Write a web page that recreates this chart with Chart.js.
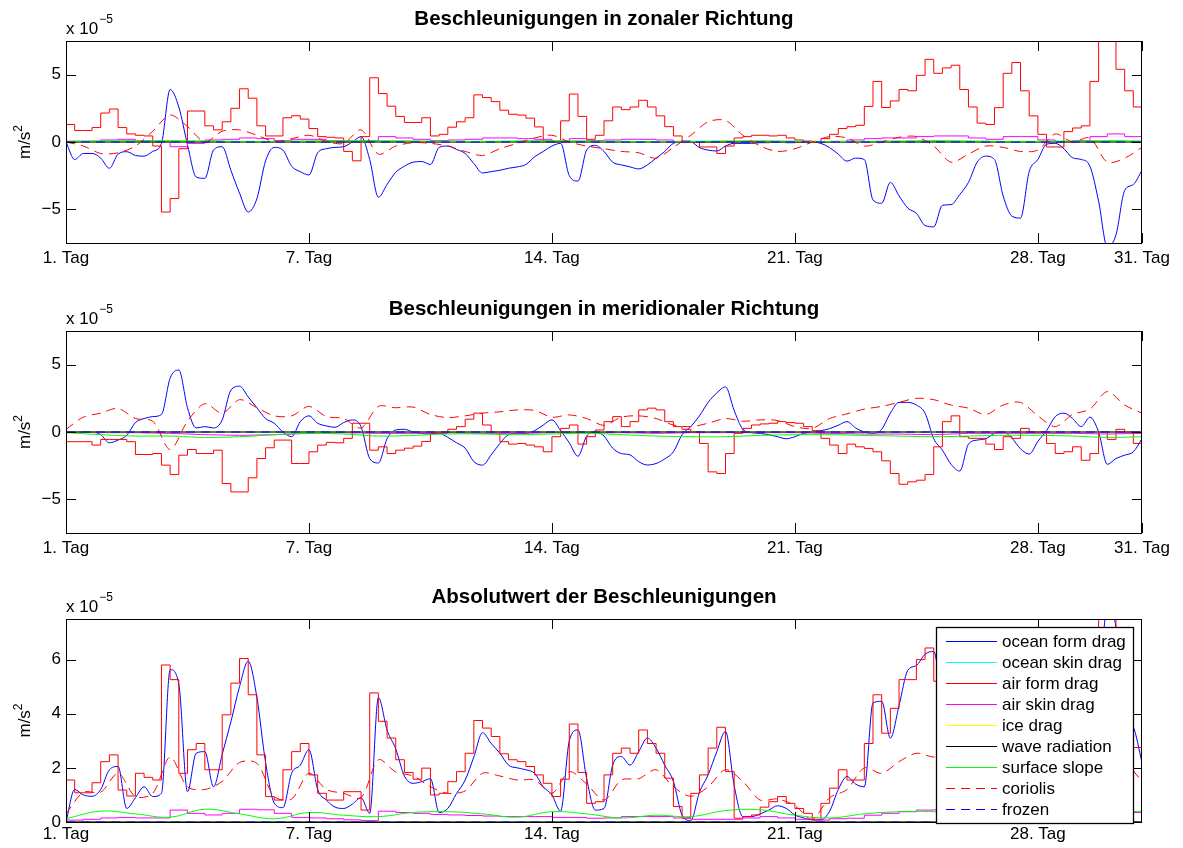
<!DOCTYPE html>
<html>
<head>
<meta charset="utf-8">
<title>Beschleunigungen</title>
<script src="https://cdn.jsdelivr.net/npm/chart.js@4.4.1/dist/chart.umd.min.js"></script>
<style>
	body { margin: 0; background: #fff; }
	canvas { position: absolute; left: 0; }
</style>
</head>
<body>
<canvas id="zonalChart" width="1183" height="288" style="top:0"></canvas>
<canvas id="meridChart" width="1183" height="288" style="top:288px"></canvas>
<canvas id="absChart" width="1183" height="272" style="top:576px"></canvas>
<script>
// grid spacing of the value lists, in days
const QUARTER = 0.25;
const HALF = 0.5;
const DAY = 1;

const dayTicks = [0, 7, 14, 21, 28, 31];
const dayLabels = ["1. Tag", "7. Tag", "14. Tag", "21. Tag", "28. Tag", "31. Tag"];
const signedTicks = [-5, 0, 5];
const absTicks = [0, 2, 4, 6];

const seriesNames = ["ocean form drag", "ocean skin drag", "air form drag", "air skin drag",
	"ice drag", "wave radiation", "surface slope", "coriolis", "frozen"];
const seriesColors = ["#0000ff", "#00ffff", "#ff0000", "#ff00ff",
	"#ffff00", "#000000", "#00ff00", "#ff0000", "#0000ff"];
const seriesDashes = [[], [], [], [], [], [], [], [9, 6], [9, 6]];

// series that stay at zero over the whole month
const zeroDays = [0, 31];
const zeroValues = [0, 0];

/* ===== zonal (x 1e-5 m/s^2) ===== */
const zonalAirForm = [
	1.3, 0.85, 0.85, 1.07,  2.15, 2.45, 1.07, 0.6,  0.5, 0.45, -0.3, -5.2,  -4.2, -0.5, 2.3, 2.3,
	1.2, 0.9, 1.5, 2.5,  3.95, 3.25, 1.2, 0.45,  0.45, 1.8, 1.95, 1.7,  1.0, 0.4, 0.35, 0.3,
	-0.7, -1.4, 0.4, 4.77,  3.6, 2.66, 1.9, 1.45,  1.45, 1.8, 0.45, 0.57,  1.1, 1.5, 1.8, 3.5,
	3.3, 3.0, 2.36, 2.06,  2.0, 1.77, 1.12, 0.07,  0.0, 1.57, 3.56, 1.9,  0.2, 0.5, 1.57, 2.6,
	2.4, 2.6, 3.1, 2.6,  1.94, 1.14, 0.45, 0.07,  0.0, -0.37, -0.37, -0.85,  -0.3, 0.3, 0.4, 0.5,
	0.5, 0.45, 0.5, 0.3,  0.15, 0.07, 0.0, 0.25,  0.57, 1.0, 1.14, 1.24,  2.64, 4.5, 2.56, 3.05,
	3.9, 3.8, 4.95, 6.14,  5.1, 5.5, 5.7, 3.9,  2.6, 1.4, 1.3, 2.55,  5.1, 5.9, 3.8, 1.94,
	0.57, -0.37, -0.37, 0.77,  1.04, 1.2, 4.5, 8.0,  8.0, 5.4, 3.8, 2.6,  2.6
];
const zonalOceanForm = [
	0, -1.3, -0.85, -0.85,  -1.2, -1.95, -0.9, -0.72,  -1.0, -1.05, -0.7, -0.1,  3.9, 2.6, -0.2, -2.6,
	-2.7, -0.6, -0.35, -2.1,  -3.8, -5.2, -4.2, -1.4,  -0.4, -0.6, -1.8, -2.2,  -2.45, -0.8, -0.5, -0.4,
	-0.35, 0.0, 0.4, -1.3,  -4.1, -3.15, -2.25, -1.8,  -1.5, -1.45, -1.67, -0.4,  -0.3, -0.55, -0.85, -1.6,
	-2.3, -2.2, -2.1, -1.95,  -1.85, -1.67, -1.1, -0.7,  -0.3, -0.1, -2.5, -2.9,  -0.6, -0.25, -0.7, -1.5,
	-1.7, -1.85, -2.0, -1.7,  -1.2, -0.7, -0.1, 0.0,  0.0, -0.42, -0.6, -0.67,  -0.3, -0.1, -0.1, -0.1,
	-0.05, -0.05, 0.0, -0.05,  -0.05, 0.0, 0.0, -0.1,  -0.42, -0.9, -1.42, -1.2,  -1.3, -4.3, -4.55, -3.0,
	-4.0, -4.9, -5.3, -6.2,  -6.3, -4.7, -4.65, -3.9,  -3.0, -1.5, -1.05, -1.3,  -4.0, -5.5, -5.65, -2.2,
	-1.3, -0.17, -0.1, -0.5,  -1.17, -1.3, -1.8, -4.4,  -7.8, -6.9, -3.6, -3.16,  -2.1
];
const zonalCoriolis = [
	0, -0.3, -0.85, -0.8, -0.3, 0.8, 2.0, 1.15, 0.0, 0.8, 0.9, 0.5, 0.05, 0.25, 0.5, 0.05,
	-0.1, 0.9, -0.9, -0.3, -0.05, -0.1, -0.3, -0.7, -1.0, -0.5, -0.1, 0.3, 0.5, 0.0, -0.3, -0.5,
	-0.7, -0.8, -1.2, -0.4, 0.5, 1.5, 1.6, 0.5, -0.3, -0.7, -0.5, 0.0, 0.4, 0.3, -0.3, 0.0,
	0.35, 0.4, -0.3, -1.5, -0.9, -0.3, -0.4, -0.7, -0.6, 0.6, 0.0, 0.3, -1.5, -1.2, -0.4
];
const zonalAirSkin = [
	0.05, 0.05, 0.15, 0.2, 0.1, 0.0, -0.35, -0.1, 0.15, 0.2, 0.3, 0.25, 0.1, 0.2, 0.2, 0.1,
	0.0, 0.1, 0.4, 0.3, 0.2, 0.1, 0.15, 0.2, 0.3, 0.3, 0.25, 0.2, 0.05, 0.25, 0.1, 0.15,
	0.2, 0.2, 0.15, 0.05, 0.0, 0.0, 0.0, 0.05, 0.05, 0.05, 0.0, 0.0, 0.05, 0.15, 0.25, 0.3,
	0.3, 0.4, 0.45, 0.45, 0.3, 0.2, 0.4, 0.4, 0.15, 0.0, 0.1, 0.4, 0.6, 0.4, 0.3
];
const zonalSlope = [
	0.05, 0.08, 0.1, 0.1, 0.08, 0.05, 0.05, 0.08, 0.1, 0.1, 0.08, 0.05, 0.05, 0.08, 0.1, 0.08,
	0.05, 0.03, 0.05, 0.08, 0.08, 0.05, 0.03, 0.05, 0.08, 0.1, 0.08, 0.05, 0.05, 0.08, 0.1, 0.08
];

/* ===== meridional ===== */
const meridAirForm = [
	-0.72, -0.72, -0.72, -0.97,  -0.55, -0.55, -0.55, -0.72,  -1.67, -1.67, -1.6, -2.46,  -3.16, -1.72, -1.3, -1.6,
	-1.6, -1.35, -3.83, -4.45,  -4.45, -3.4, -1.97, -1.17,  -0.6, -0.6, -2.34, -2.34,  -1.47, -0.97, -0.77, -0.8,
	-0.47, 0.65, 0.65, -1.35,  -1.1, -1.6, -1.35, -1.2,  -1.05, -0.7, -0.1, -0.1,  0.2, 0.4, 0.95, 1.4,
	0.52, 0.0, -0.72, -0.9,  -0.85, -0.97, -1.1, -1.47,  -0.35, 0.27, 0.52, -0.9,  -0.35, 0.15, 0.77, 1.14,
	0.4, 0.77, 1.64, 1.77,  1.64, 0.77, 0.4, 0.2,  0.0, -0.85, -2.96, -3.08,  -1.6, -0.1, 0.27, 0.52,
	0.6, 0.65, 0.77, 0.7,  0.65, 0.4, 0.1, -0.47,  -0.97, -1.6, -0.9, -1.1,  -1.22, -1.47, -2.14, -3.08,
	-3.88, -3.7, -3.58, -3.16,  -1.1, 0.77, 1.2, -0.35,  -0.47, -0.47, -0.9, -1.3,  -0.35, -0.47, 0.27, 0.0,
	0.0, -0.85, -1.6, -1.47,  -1.1, -2.1, -1.6, 0.0,  -0.55, 0.2, 0.0, -0.85,  -0.85
];
const meridOceanForm = [
	0, 0, 0, 0,  -0.2, -0.8, -0.6, -0.25,  0.7, 1.0, 1.14, 1.3,  4.0, 4.6, 1.8, 0.3,
	0.4, 0.3, 0.9, 3.1,  3.4, 2.6, 1.8, 1.0,  0.65, 0.0, -0.35, 0.77,  1.2, 0.65, 0.45, 0.35,
	0.7, 0.9, 0.4, -1.97,  -2.3, -0.5, 0.15, 0.2,  0.0, -0.1, -0.15, -0.1,  -0.4, -0.8, -1.2, -2.2,
	-2.46, -1.7, -0.85, -0.2,  -0.1, -0.1, 0.1, 0.52,  0.9, 0.1, -0.8, -1.8,  -0.3, 0.0, -0.3, -1.2,
	-1.6, -1.7, -2.2, -2.45,  -2.34, -2.0, -1.47, -0.2,  0.4, 1.2, 2.2, 2.9,  3.35, 1.6, 0.2, -0.05,
	-0.1, -0.2, -0.35, -0.5,  -0.35, -0.1, 0.0, 0.1,  0.25, 0.5, 0.77, 0.3,  0.0, -0.1, 0.2, 1.4,
	2.2, 2.2, 2.0, 1.4,  -0.5, -1.35, -2.4, -2.9,  -0.9, -0.6, -0.5, -0.1,  0.0, -0.45, -1.25, -1.64,
	-0.7, 0.1, 1.14, 1.4,  1.0, 0.4, 1.1, 0.0,  -2.4, -1.97, -1.72, -1.47,  -0.5
];
const meridCoriolis = [
	0.2, 1.1, 1.4, 1.75, 1.0, 0.8, -1.3, 0.8, 2.1, 1.4, 2.4, 1.8, 1.2, 1.2, 1.9, 1.15,
	1.0, 0.3, 1.9, 1.8, 1.85, 1.3, 1.07, 1.2, 1.4, 1.5, 1.64, 1.6, 1.1, 1.27, 1.0, 0.5,
	1.1, 1.2, 1.0, 0.52, 0.4, 0.65, 1.0, 0.8, 0.9, 0.85, 0.4, 0.27, 1.0, 1.35, 1.7, 1.9,
	2.2, 2.5, 2.4, 2.0, 1.77, 1.3, 2.0, 2.2, 1.2, 0.4, 1.3, 1.7, 3.0, 2.0, 1.4
];
const meridAirSkin = [
	0, -0.05, -0.05, -0.1, -0.2, -0.25, -0.2, -0.1, -0.05, -0.1, -0.1, -0.05, -0.1, -0.1, -0.05, -0.05,
	-0.05, -0.1, -0.05, -0.05, -0.05, -0.05, -0.1, -0.15, -0.15, -0.2, -0.1, -0.1, -0.1, -0.1, -0.15, -0.1
];
const meridSlope = [
	-0.05, -0.2, -0.3, -0.3, -0.4, -0.35, -0.2, -0.1, -0.15, -0.3, -0.25, -0.15, -0.15, -0.2, -0.15, -0.1,
	-0.2, -0.3, -0.35, -0.35, -0.25, -0.2, -0.2, -0.25, -0.3, -0.35, -0.3, -0.25, -0.25, -0.3, -0.4, -0.35
];

/* ===== absolute value ===== */
const absAirForm = [
	1.55, 1.08, 1.08, 1.45,  2.23, 2.48, 1.18, 0.96,  1.8, 1.65, 1.55, 5.8,  5.26, 1.8, 2.67, 2.9,
	1.93, 1.93, 3.96, 5.13,  6.04, 4.7, 2.48, 0.94,  0.81, 1.93, 2.6, 2.9,  1.74, 1.06, 0.81, 0.81,
	1.12, 1.12, 0.44, 4.77,  3.72, 3.1, 2.3, 1.83,  1.58, 1.99, 1.0, 1.06,  1.49, 1.86, 2.54, 3.75,
	3.47, 3.16, 2.52, 2.3,  2.23, 2.05, 1.74, 1.43,  0.94, 1.58, 3.62, 1.83,  0.69, 0.75, 1.74, 2.54,
	2.73, 2.54, 3.4, 2.9,  2.54, 1.62, 0.57, 0.14,  1.06, 1.74, 2.73, 3.5,  1.86, 0.14, 0.2, 0.26,
	0.55, 0.75, 0.94, 0.69,  0.5, 0.32, 0.1, 0.69,  1.25, 1.93, 1.55, 1.55,  2.9, 4.7, 3.28, 4.2,
	5.26, 5.26, 6.0, 6.43,  5.2, 5.55, 5.8, 3.9,  2.64, 1.5, 1.6, 2.85,  5.1, 5.9, 3.8, 1.94,
	0.6, 0.9, 1.6, 1.65,  1.5, 2.4, 4.8, 8.0,  8.0, 5.4, 3.8, 2.75,  2.75
];
const absOceanForm = [
	0.0, 1.2, 1.0, 0.95,  1.2, 1.93, 2.05, 0.5,  0.9, 1.3, 0.94, 1.06,  5.63, 5.1, 1.12, 2.54,
	2.6, 1.3, 2.5, 3.7,  5.0, 5.94, 4.6, 2.2,  0.7, 0.53, 1.8, 2.1,  2.67, 1.2, 0.81, 0.55,
	0.5, 0.66, 0.9, 0.32,  4.6, 3.4, 2.7, 1.7,  1.43, 1.49, 1.6, 0.35,  0.5, 1.05, 1.55, 2.4,
	3.3, 2.9, 2.54, 2.1,  2.0, 1.93, 1.8, 1.3,  1.0, 0.4, 3.0, 3.4,  1.6, 0.44, 0.5, 2.1,
	2.42, 2.1, 2.6, 3.1,  2.73, 2.1, 1.5, 0.25,  0.05, 1.1, 1.74, 2.6,  3.35, 1.35, 0.2, 0.2,
	0.3, 0.44, 0.6, 0.5,  0.26, 0.15, 0.08, 0.08,  0.4, 1.2, 1.68, 1.4,  1.3, 4.4, 4.46, 3.1,
	4.3, 5.6, 5.78, 6.2,  6.3, 4.8, 4.8, 3.9,  3.0, 1.6, 1.2, 1.3,  4.0, 5.5, 5.8, 2.6,
	1.4, 0.2, 1.15, 1.5,  1.5, 1.35, 2.1, 4.4,  8.0, 7.2, 4.0, 3.5,  2.2
];
const absCoriolis = [
	0.3, 1.1, 1.1, 1.8, 0.94, 1.06, 2.4, 1.3, 1.2, 1.5, 2.2, 2.17, 0.94, 0.85, 1.8, 1.2,
	1.06, 0.9, 2.3, 1.85, 1.7, 1.3, 1.06, 1.15, 1.8, 1.7, 1.55, 1.55, 1.06, 1.86, 1.4, 0.81,
	1.55, 1.6, 1.93, 1.3, 0.95, 1.3, 1.93, 1.5, 0.81, 0.85, 0.6, 0.1, 0.9, 1.2, 2.0, 1.8,
	2.23, 2.54, 2.4, 2.5, 1.9, 1.3, 2.0, 2.3, 1.4, 0.8, 1.3, 1.7, 3.4, 2.3, 1.5
];
const absAirSkin = [
	0.07, 0.1, 0.15, 0.17, 0.15, 0.15, 0.44, 0.32, 0.26, 0.32, 0.47, 0.45, 0.32, 0.17, 0.15, 0.12,
	0.08, 0.05, 0.4, 0.35, 0.32, 0.28, 0.26, 0.24, 0.22, 0.2, 0.2, 0.2, 0.17, 0.17, 0.14, 0.15,
	0.2, 0.2, 0.2, 0.15, 0.1, 0.1, 0.1, 0.15, 0.2, 0.15, 0.1, 0.07, 0.12, 0.14, 0.25, 0.32,
	0.38, 0.44, 0.45, 0.45, 0.35, 0.25, 0.4, 0.45, 0.2, 0.1, 0.15, 0.5, 0.65, 0.35, 0.26
];
const absSlope = [
	0.12, 0.4, 0.3, 0.18, 0.47, 0.3, 0.12, 0.35, 0.25, 0.2, 0.35, 0.38, 0.3, 0.18, 0.38, 0.3,
	0.15, 0.25, 0.2, 0.42, 0.45, 0.25, 0.15, 0.3, 0.38, 0.38, 0.3, 0.2, 0.3, 0.4, 0.35, 0.4
];

const FONT_FAMILY = "'Liberation Sans', Arial, Helvetica, sans-serif";
Chart.defaults.font.family = FONT_FAMILY;
Chart.defaults.font.size = 17;
Chart.defaults.color = "#000";

function toPoints(values, step) {
	return values.map((v, i) => ({ x: i * step, y: v }));
}

function zeroPoints() {
	return zeroValues.map((v, i) => ({ x: zeroDays[i], y: v }));
}

function buildDatasets(s) {
	const sets = [
		{ data: toPoints(s.oceanForm, QUARTER), cubicInterpolationMode: "monotone" },
		{ data: zeroPoints() },
		{ data: toPoints(s.airForm, QUARTER), stepped: true },
		{ data: toPoints(s.airSkin, s.airSkinStep), stepped: s.airSkinStep === HALF },
		{ data: zeroPoints() },
		{ data: zeroPoints() },
		{ data: toPoints(s.slope, DAY), tension: 0.4 },
		{ data: toPoints(s.coriolis, HALF), tension: 0.3 },
		{ data: zeroPoints() }
	];
	// later series are drawn on top, as in the original plot
	return sets.map((ds, i) => Object.assign({
		label: seriesNames[i],
		borderColor: seriesColors[i],
		borderDash: seriesDashes[i],
		order: sets.length - 1 - i,
		borderWidth: 1,
		pointRadius: 0,
		fill: false
	}, ds));
}

const matlabFrame = {
	id: "matlabFrame",
	afterDraw(chart, args, opts) {
		const { ctx, chartArea: a, scales } = chart;
		ctx.save();
		ctx.strokeStyle = "#000";
		ctx.lineWidth = 1;
		ctx.strokeRect(a.left + 0.5, a.top + 0.5, a.width - 1, a.height);

		// ticks point inward on all four sides
		ctx.beginPath();
		scales.x.ticks.forEach(t => {
			const px = Math.round(scales.x.getPixelForValue(t.value)) + 0.5;
			ctx.moveTo(px, a.top); ctx.lineTo(px, a.top + 10);
			ctx.moveTo(px, a.bottom); ctx.lineTo(px, a.bottom - 10);
		});
		scales.y.ticks.forEach(t => {
			const py = Math.round(scales.y.getPixelForValue(t.value)) + 0.5;
			ctx.moveTo(a.left, py); ctx.lineTo(a.left + 10, py);
			ctx.moveTo(a.right, py); ctx.lineTo(a.right - 10, py);
		});
		ctx.stroke();

		ctx.fillStyle = "#000";
		ctx.textBaseline = "alphabetic";
		ctx.textAlign = "center";
		ctx.font = "bold 20.5px " + FONT_FAMILY;
		ctx.fillText(opts.title, (a.left + a.right) / 2, a.top - 16);

		ctx.textAlign = "left";
		ctx.font = "17px " + FONT_FAMILY;
		ctx.fillText("x 10", a.left, a.top - 7);
		const expX = a.left + ctx.measureText("x 10").width + 1;
		ctx.font = "12px " + FONT_FAMILY;
		ctx.fillText("\u22125", expX, a.top - 18);

		// y label  m/s²
		ctx.translate(30, (a.top + a.bottom) / 2);
		ctx.rotate(-Math.PI / 2);
		ctx.font = "17px " + FONT_FAMILY;
		const w1 = ctx.measureText("m/s").width;
		ctx.font = "12px " + FONT_FAMILY;
		const w2 = ctx.measureText("2").width;
		const x0 = -(w1 + w2) / 2;
		ctx.font = "17px " + FONT_FAMILY;
		ctx.fillText("m/s", x0, 0);
		ctx.font = "12px " + FONT_FAMILY;
		ctx.fillText("2", x0 + w1, -8);
		ctx.restore();
	}
};

const matlabLegend = {
	id: "matlabLegend",
	afterDraw(chart) {
		const { ctx, chartArea: a } = chart;
		const boxW = 197, boxH = 196, rowH = 21;
		const left = a.right - 9 - boxW;
		const top = a.top + 8;
		ctx.save();
		ctx.fillStyle = "#fff";
		ctx.fillRect(left, top, boxW, boxH);
		ctx.strokeStyle = "#000";
		ctx.lineWidth = 1.3;
		ctx.strokeRect(left + 0.5, top + 0.5, boxW, boxH);
		ctx.font = "17px " + FONT_FAMILY;
		ctx.textAlign = "left";
		ctx.textBaseline = "middle";
		seriesNames.forEach((name, i) => {
			const y = Math.floor(top + 14 + i * rowH) + 0.5;
			ctx.beginPath();
			ctx.setLineDash(seriesDashes[i]);
			ctx.strokeStyle = seriesColors[i];
			ctx.lineWidth = 1.2;
			ctx.moveTo(left + 10, y);
			ctx.lineTo(left + 61, y);
			ctx.stroke();
			ctx.fillStyle = "#000";
			ctx.fillText(name, left + 66, y + 1);
		});
		ctx.restore();
	}
};

function makeChart(id, cfg) {
	const xTicks = cfg.showLast ? dayTicks : dayTicks.slice(0, -1);
	return new Chart(document.getElementById(id), {
		type: "line",
		data: { datasets: buildDatasets(cfg.series) },
		options: {
			responsive: false,
			animation: false,
			events: [],
			layout: { padding: { top: cfg.plotTop, right: 41, left: 0, bottom: 0 } },
			plugins: {
				legend: { display: false },
				tooltip: { enabled: false },
				matlabFrame: { title: cfg.title }
			},
			scales: {
				x: {
					type: "linear",
					min: 0,
					max: 31,
					grid: { display: false, drawTicks: false },
					border: { display: false },
					afterBuildTicks: s => { s.ticks = xTicks.map(v => ({ value: v })); },
					afterFit: s => { s.height = cfg.xAxisHeight; },
					ticks: {
						padding: cfg.xPad,
						maxRotation: 0,
						autoSkip: false,
						callback: v => dayLabels[dayTicks.indexOf(v)]
					}
				},
				y: {
					min: cfg.yMin,
					max: cfg.yMax,
					grid: { display: false, drawTicks: false },
					border: { display: false },
					afterBuildTicks: s => { s.ticks = cfg.yTicks.map(v => ({ value: v })); },
					afterFit: s => { s.width = 66; },
					ticks: {
						padding: 5,
						callback: v => v < 0 ? "\u2212" + Math.abs(v) : String(v)
					}
				}
			}
		},
		plugins: cfg.legend ? [matlabFrame, matlabLegend] : [matlabFrame]
	});
}

document.addEventListener("DOMContentLoaded", () => {

	window.zonalChart = makeChart("zonalChart", {
		title: "Beschleunigungen in zonaler Richtung",
		plotTop: 41, xAxisHeight: 45, xPad: 5, showLast: true,
		yMin: -7.5, yMax: 7.5, yTicks: signedTicks,
		series: { oceanForm: zonalOceanForm, airForm: zonalAirForm, airSkin: zonalAirSkin,
			airSkinStep: HALF, slope: zonalSlope, coriolis: zonalCoriolis }
	});

	window.meridChart = makeChart("meridChart", {
		title: "Beschleunigungen in meridionaler Richtung",
		plotTop: 43, xAxisHeight: 43, xPad: 5, showLast: true,
		yMin: -7.5, yMax: 7.5, yTicks: signedTicks,
		series: { oceanForm: meridOceanForm, airForm: meridAirForm, airSkin: meridAirSkin,
			airSkinStep: DAY, slope: meridSlope, coriolis: meridCoriolis }
	});

	window.absChart = makeChart("absChart", {
		title: "Absolutwert der Beschleunigungen",
		plotTop: 43, xAxisHeight: 26, xPad: 2, showLast: false, legend: true,
		yMin: 0, yMax: 7.5, yTicks: absTicks,
		series: { oceanForm: absOceanForm, airForm: absAirForm, airSkin: absAirSkin,
			airSkinStep: HALF, slope: absSlope, coriolis: absCoriolis }
	});
});
</script>
</body>
</html>
